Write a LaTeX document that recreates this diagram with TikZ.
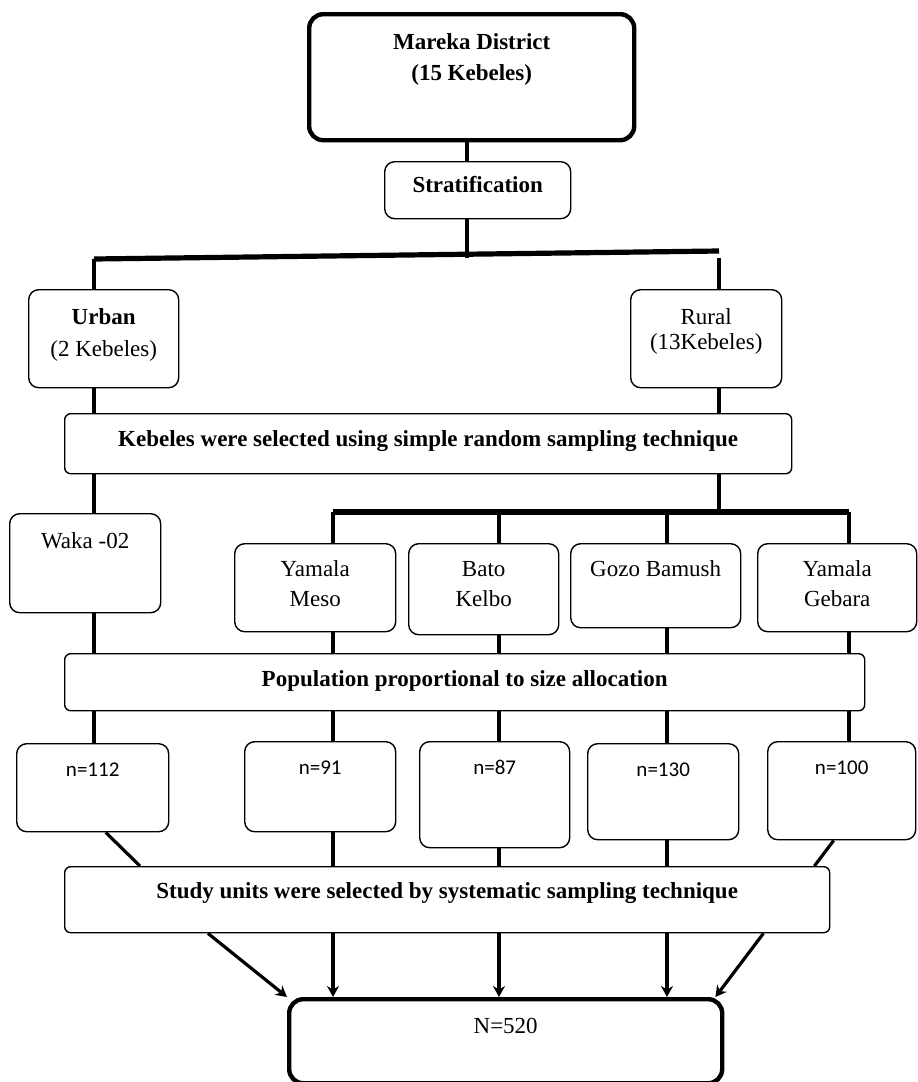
\documentclass[tikz,border=0pt]{standalone}
\usepackage{fontspec}
\setmainfont{Liberation Serif}
\newfontfamily\calfont{Carlito}
\usetikzlibrary{arrows.meta}

\tikzset{
  kbox/.style={draw, line width=0.7pt, rounded corners=5pt, anchor=north west, inner sep=0pt},
  wide/.style={kbox, rounded corners=3pt},
  heavy/.style={kbox, line width=2.2pt, rounded corners=7pt},
  txt/.style={align=center, inner sep=0pt, font=\fontsize{11.5}{15}\selectfont},
  ntxt/.style={txt, font=\calfont\fontsize{10.5}{12}\selectfont},
  link/.style={line width=1.6pt},
  bar/.style={line width=2.6pt},
}

\begin{document}
\begin{tikzpicture}[x=0.5pt,y=-0.5pt,>={Stealth[length=5.5pt,width=6pt]}]
\useasboundingbox (0,0) rectangle (917,1082);

% district and strata
\node[heavy, minimum width=162.5pt, minimum height=63pt,
  label={[txt,below=10.5pt,font=\fontsize{11.5}{15.5}\selectfont]north:{\textbf{Mareka District}\\\textbf{(15 Kebeles)}}}] (mareka) at (307,12) {};
\node[kbox, minimum width=93pt, minimum height=28.5pt,
  label={[txt,below=7.5pt]north:{\textbf{Stratification}}}] (strat) at (384,161) {};
\node[kbox, minimum width=75pt, minimum height=49pt,
  label={[txt,below=9.5pt,font=\fontsize{11.5}{16}\selectfont]north:{\textbf{Urban}\\(2 Kebeles)}}] (urban) at (28,289) {};
\node[kbox, minimum width=75.5pt, minimum height=49pt,
  label={[txt,below=9.5pt,font=\fontsize{11.5}{12.5}\selectfont]north:{Rural\\(13Kebeles)}}] (rural) at (630,289) {};
\node[wide, minimum width=363.5pt, minimum height=30pt,
  label={[txt,below=8.5pt]north:{\textbf{Kebeles were selected using simple random sampling technique}}}] (kebsel) at (64,413) {};

% selected kebeles
\node[kbox, minimum width=75.5pt, minimum height=49.5pt,
  label={[txt,below=9.5pt]north:{Waka -02}}] (waka) at (9,513) {};
\node[kbox, minimum width=80.5pt, minimum height=44pt,
  label={[txt,below=8.8pt]north:{Yamala\\Meso}}] (ymeso) at (234,543) {};
\node[kbox, minimum width=75pt, minimum height=45.5pt,
  label={[txt,below=8.8pt]north:{Bato\\Kelbo}}] (bato) at (408,543) {};
\node[kbox, minimum width=85pt, minimum height=42pt,
  label={[txt,below=8.8pt]north:{Gozo Bamush}}] (gozo) at (570,543) {};
\node[kbox, minimum width=79.5pt, minimum height=44pt,
  label={[txt,below=8.8pt]north:{Yamala\\Gebara}}] (gebara) at (757,543) {};
\node[wide, minimum width=400pt, minimum height=28.5pt,
  label={[txt,below=8.8pt]north:{\textbf{Population proportional to size allocation}}}] (popu) at (64,653) {};

% sample sizes
\node[kbox, minimum width=76pt, minimum height=44pt,
  label={[ntxt,below=9.5pt]north:{n=112}}] (n112) at (16,743) {};
\node[kbox, minimum width=75.5pt, minimum height=45pt,
  label={[ntxt,below=9.5pt]north:{n=91}}] (n91) at (244,741) {};
\node[kbox, minimum width=75pt, minimum height=53pt,
  label={[ntxt,below=9.5pt]north:{n=87}}] (n87) at (419,741) {};
\node[kbox, minimum width=75.5pt, minimum height=48pt,
  label={[ntxt,below=9.5pt]north:{n=130}}] (n130) at (587,743) {};
\node[kbox, minimum width=74pt, minimum height=49pt,
  label={[ntxt,below=9.5pt]north:{n=100}}] (n100) at (767,741) {};
\node[wide, minimum width=382.5pt, minimum height=33pt,
  label={[txt,below=8.3pt]north:{\textbf{Study units were selected by systematic sampling technique}}}] (study) at (64,866) {};
\node[heavy, minimum width=216.5pt, minimum height=42pt,
  label={[txt,below=10.5pt]north:{N=520}}] (total) at (287,997) {};

% branch points
\coordinate (sl) at (94,259);
\coordinate (sm) at (467,254);
\coordinate (sr) at (719,251);
\coordinate (cr) at (719,258);
\coordinate (rl) at (333,512);
\coordinate (c3) at (499,512);
\coordinate (c4) at (667,512);
\coordinate (rr) at (849,512);

% top part
\draw[link] (sm |- mareka.south) -- (sm |- strat.north);
\draw[link] (sm |- strat.south) -- ([yshift=-2pt]sm);
\draw[bar] (sl) -- (sr);
\draw[link] (sl) -- (sl |- urban.north);
\draw[link] (cr) -- (cr |- rural.north);
\draw[link] (sl |- urban.south) -- (sl |- kebsel.north);
\draw[link] (cr |- rural.south) -- (cr |- kebsel.north);
\draw[link] (sl |- kebsel.south) -- (sl |- waka.north);
\draw[link] (cr |- kebsel.south) -- (cr |- rl);
\draw[bar] (rl) -- (rr);
\foreach \c/\b in {rl/ymeso, c3/bato, c4/gozo, rr/gebara}
  \draw[link] (\c |- rl) -- (\c |- \b.north);

% allocation
\foreach \c/\b in {sl/waka, rl/ymeso, c3/bato, c4/gozo, rr/gebara}
  \draw[link] (\c |- \b.south) -- (\c |- popu.north);
\foreach \c/\b in {sl/n112, rl/n91, c3/n87, c4/n130, rr/n100}
  \draw[link] (\c |- popu.south) -- (\c |- \b.north);

% to study units
\draw[link] ([xshift=6.5pt]n112.south) -- ([xshift=38pt]study.north west);
\foreach \c/\b in {rl/n91, c3/n87, c4/n130}
  \draw[link] (\c |- \b.south) -- (\c |- study.north);
\draw[link] ([xshift=-4pt]n100.south) -- ([xshift=-8pt]study.north east);

% to total sample
\draw[link,->] ([xshift=72pt]study.south west) -- (total.north west);
\foreach \c in {rl, c3, c4}
  \draw[link,->] (\c |- study.south) -- (\c |- total.north);
\draw[link,->] ([xshift=-33.5pt]study.south east) -- ([xshift=-4.5pt]total.north east);
\end{tikzpicture}
\end{document}
